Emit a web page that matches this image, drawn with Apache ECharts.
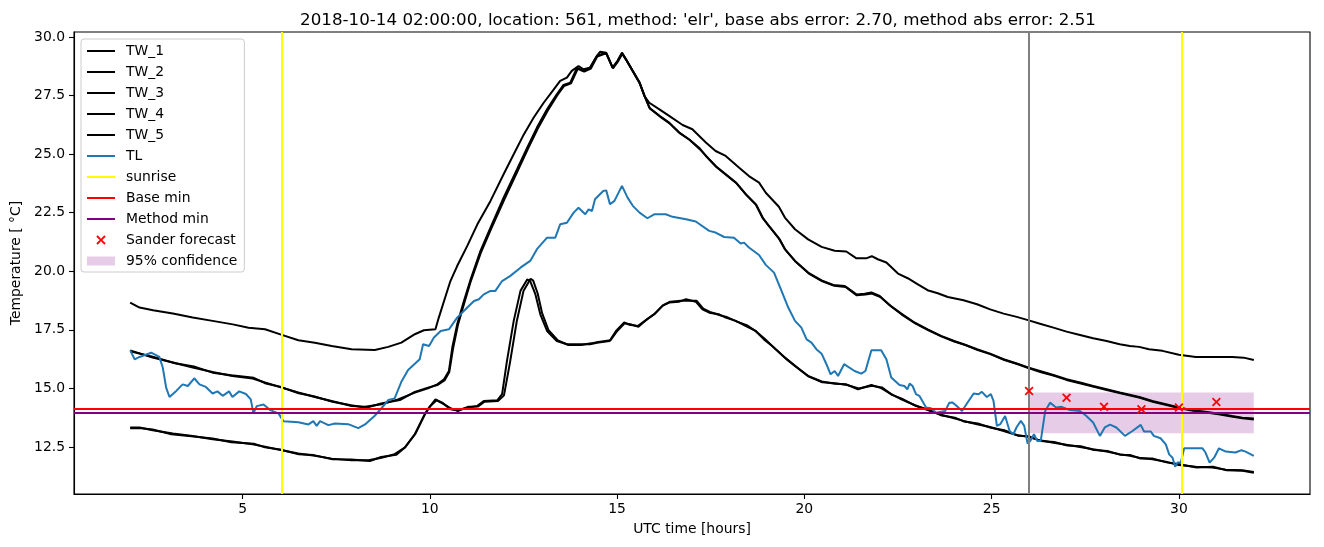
<!DOCTYPE html>
<html>
<head>
<meta charset="utf-8">
<script src="https://cdn.jsdelivr.net/npm/echarts@6/dist/echarts.min.js"></script>
<style>html,body{margin:0;padding:0;background:#fff;}#chart{width:1324px;height:547px;}</style>
</head>
<body>
<div id="chart"></div>
<script>
// ---------- data (time in UTC hours, temperature in °C) ----------
const TW_1 = [[2.0,18.66],[2.25,18.45],[2.61,18.33],[3.14,18.19],[3.67,18.02],[4.20,17.88],[4.74,17.73],[5.16,17.59],[5.60,17.52],[6.05,17.28],[6.49,17.05],[6.93,16.95],[7.38,16.81],[7.91,16.67],[8.53,16.64],[8.89,16.77],[9.24,16.95],[9.60,17.31],[9.84,17.48],[10.15,17.52],[10.24,18.02],[10.38,18.73],[10.55,19.58],[10.73,20.22],[11.00,21.08],[11.27,22.00],[11.62,23.00],[11.97,24.14],[12.24,24.99],[12.51,25.84],[12.77,26.55],[13.04,27.19],[13.31,27.76],[13.48,28.12],[13.66,28.26],[13.79,28.55],[13.97,28.76],[14.10,28.62],[14.28,28.69],[14.46,29.19],[14.55,29.37],[14.71,29.33],[14.88,28.69],[15.01,28.97],[15.13,29.33],[15.24,29.04],[15.42,28.55],[15.60,28.05],[15.73,27.48],[15.86,27.19],[16.13,26.91],[16.39,26.63],[16.75,26.24],[17.01,26.06],[17.37,25.49],[17.63,25.13],[17.90,24.92],[18.26,24.42],[18.52,24.06],[18.79,23.78],[18.97,23.35],[19.32,22.75],[19.48,22.29],[19.75,21.79],[20.10,21.36],[20.46,21.04],[20.81,20.87],[21.12,20.84],[21.39,20.55],[21.65,20.55],[21.80,20.64],[21.96,20.51],[22.19,20.37],[22.50,19.90],[22.76,19.70],[23.03,19.44],[23.29,19.19],[23.56,19.06],[23.83,18.90],[24.25,18.76],[24.61,18.59],[24.96,18.37],[25.32,18.19],[25.67,18.05],[25.97,17.91],[26.29,17.76],[26.65,17.59],[27.00,17.42],[27.36,17.28],[27.71,17.14],[28.07,17.02],[28.42,16.88],[28.69,16.81],[28.94,16.77],[29.20,16.67],[29.56,16.60],[30.00,16.43],[30.45,16.34],[30.89,16.34],[31.42,16.34],[31.73,16.31],[32.0,16.21]];
const TW_2 = [[2.0,16.62],[2.60,16.31],[3.14,16.10],[3.67,15.89],[4.20,15.70],[4.73,15.53],[5.27,15.42],[5.60,15.25],[6.05,15.03],[6.49,14.82],[6.93,14.63],[7.38,14.46],[7.91,14.25],[8.27,14.21],[8.71,14.32],[9.15,14.53],[9.60,14.82],[9.95,15.00],[10.20,15.17],[10.38,15.39],[10.51,15.74],[10.60,16.74],[10.73,17.73],[10.91,18.73],[11.09,19.65],[11.35,20.86],[11.62,21.86],[11.97,23.14],[12.33,24.35],[12.60,25.27],[12.86,26.13],[13.13,26.91],[13.39,27.55],[13.57,27.95],[13.75,28.05],[13.93,28.69],[14.10,28.55],[14.28,28.69],[14.46,29.19],[14.63,29.29],[14.71,29.30],[14.88,28.69],[15.01,28.97],[15.13,29.30],[15.24,29.04],[15.42,28.55],[15.60,28.05],[15.73,27.48],[15.86,26.98],[16.13,26.63],[16.39,26.34],[16.66,25.92],[16.92,25.63],[17.19,25.27],[17.37,24.92],[17.63,24.49],[17.90,24.14],[18.17,23.78],[18.44,23.28],[18.70,22.86],[18.88,22.29],[19.05,21.93],[19.32,21.40],[19.48,20.94],[19.75,20.44],[20.10,19.94],[20.46,19.61],[20.77,19.41],[21.08,19.37],[21.39,19.01],[21.61,19.04],[21.79,19.09],[22.01,18.94],[22.27,18.56],[22.59,18.19],[22.94,17.81],[23.29,17.52],[23.65,17.24],[24.00,17.02],[24.25,16.88],[24.61,16.67],[24.96,16.48],[25.32,16.24],[25.67,16.06],[25.97,15.89],[26.29,15.74],[26.65,15.57],[27.00,15.39],[27.36,15.25],[27.71,15.10],[28.07,14.96],[28.42,14.82],[28.94,14.63],[29.29,14.46],[29.65,14.32],[30.00,14.18],[30.36,14.07],[30.71,14.00],[31.07,13.92],[31.42,13.82],[31.69,13.75],[32.0,13.71]];
const TW_3 = [[2.0,16.58],[2.6,16.35],[3.2,16.07],[3.7,15.93],[4.2,15.67],[4.7,15.56],[5.3,15.45],[5.6,15.22],[6.0,15.07],[6.5,14.79],[6.9,14.66],[7.4,14.43],[7.9,14.28],[8.3,14.17],[8.7,14.35],[9.2,14.50],[9.6,14.85],[9.95,15.03],[10.2,15.14],[10.4,15.35],[10.52,15.70],[10.62,16.70],[10.75,17.70],[10.93,18.70],[11.1,19.60],[11.37,20.82],[11.64,21.82],[12.0,23.10],[12.35,24.30],[12.62,25.22],[12.88,26.08],[13.15,26.86],[13.4,27.50],[13.58,27.90],[13.77,28.02],[13.95,28.64],[14.12,28.52],[14.3,28.65],[14.47,29.16],[14.65,29.27],[14.72,29.27],[14.89,28.66],[15.02,28.94],[15.14,29.28],[15.25,29.0],[15.43,28.5],[15.61,28.0],[15.75,27.42],[15.88,26.94],[16.15,26.60],[16.41,26.30],[16.68,25.88],[16.94,25.60],[17.2,25.22],[17.4,24.88],[17.65,24.45],[17.92,24.10],[18.2,23.74],[18.46,23.24],[18.72,22.82],[18.9,22.25],[19.07,21.90],[19.34,21.36],[19.5,20.90],[19.77,20.40],[20.12,19.90],[20.48,19.57],[20.8,19.38],[21.1,19.33],[21.4,18.97],[21.63,19.0],[21.8,19.05],[22.03,18.90],[22.3,18.52],[22.6,18.15],[22.96,17.77],[23.3,17.49],[23.67,17.21],[24.0,17.0],[24.3,16.85],[24.63,16.63],[24.98,16.45],[25.34,16.21],[25.7,16.03],[26.0,15.86],[26.3,15.70],[26.67,15.54],[27.0,15.36],[27.38,15.21],[27.73,15.07],[28.1,14.92],[28.44,14.79],[28.96,14.60],[29.3,14.43],[29.67,14.29],[30.02,14.15],[30.38,14.04],[30.73,13.97],[31.1,13.88],[31.44,13.79],[31.7,13.72],[32.0,13.67]];
const TW_4 = [[2.0,13.33],[2.25,13.33],[2.60,13.21],[3.14,13.07],[3.67,12.97],[4.20,12.83],[4.73,12.73],[5.27,12.61],[5.60,12.51],[6.05,12.36],[6.49,12.22],[6.93,12.12],[7.38,12.00],[7.91,11.93],[8.36,11.93],[8.71,12.04],[9.06,12.19],[9.33,12.47],[9.60,13.04],[9.86,13.89],[9.98,14.18],[10.15,14.53],[10.33,14.39],[10.55,14.11],[10.73,14.06],[11.00,14.18],[11.27,14.25],[11.44,14.46],[11.80,14.49],[11.93,14.75],[12.06,16.17],[12.24,17.88],[12.42,19.16],[12.60,19.65],[12.68,19.58],[12.82,19.01],[12.95,18.16],[13.13,17.45],[13.39,17.02],[13.66,16.88],[14.02,16.88],[14.28,16.88],[14.46,16.95],[14.80,17.02],[14.97,17.45],[15.19,17.81],[15.33,17.71],[15.55,17.66],[15.77,17.91],[15.99,18.16],[16.21,18.52],[16.39,18.66],[16.66,18.70],[16.84,18.80],[17.10,18.70],[17.28,18.37],[17.46,18.23],[17.72,18.16],[17.90,18.02],[18.17,17.88],[18.44,17.66],[18.70,17.45],[18.92,17.09],[19.14,16.81],[19.48,16.31],[19.75,15.96],[20.10,15.53],[20.46,15.29],[20.81,15.20],[21.12,15.17],[21.43,14.96],[21.79,15.14],[22.05,15.01],[22.32,14.75],[22.59,14.53],[22.94,14.29],[23.29,14.07],[23.65,13.87],[24.00,13.72],[24.25,13.61],[24.61,13.47],[24.96,13.35],[25.32,13.18],[25.67,13.01],[25.97,12.93],[26.29,12.78],[26.65,12.68],[27.00,12.59],[27.36,12.50],[27.71,12.40],[28.07,12.30],[28.42,12.19],[28.69,12.12],[28.94,12.04],[29.29,11.97],[29.65,11.87],[30.00,11.73],[30.45,11.65],[30.89,11.62],[31.25,11.53],[31.69,11.50],[32.0,11.43]];
const TW_5 = [[2.0,13.30],[2.3,13.30],[2.6,13.24],[3.1,13.04],[3.7,12.94],[4.2,12.86],[4.7,12.70],[5.3,12.64],[5.6,12.48],[6.0,12.39],[6.5,12.19],[6.9,12.15],[7.4,11.97],[7.9,11.96],[8.4,11.90],[8.7,12.07],[9.1,12.16],[9.35,12.50],[9.62,13.08],[9.88,13.92],[10.0,14.22],[10.18,14.49],[10.35,14.35],[10.57,14.14],[10.75,14.03],[11.02,14.21],[11.28,14.22],[11.46,14.43],[11.82,14.46],[11.98,14.70],[12.14,16.10],[12.32,17.85],[12.5,19.15],[12.69,19.68],[12.76,19.60],[12.88,19.05],[13.0,18.20],[13.17,17.48],[13.42,17.05],[13.7,16.85],[14.05,16.85],[14.3,16.92],[14.5,16.98],[14.82,17.05],[14.99,17.42],[15.2,17.78],[15.35,17.74],[15.57,17.63],[15.8,17.95],[16.02,18.20],[16.23,18.55],[16.42,18.70],[16.7,18.74],[16.86,18.74],[17.12,18.74],[17.3,18.40],[17.48,18.26],[17.75,18.12],[17.92,18.05],[18.2,17.85],[18.46,17.70],[18.72,17.42],[18.94,17.12],[19.16,16.78],[19.5,16.28],[19.77,15.93],[20.12,15.50],[20.48,15.26],[20.83,15.22],[21.14,15.14],[21.45,14.99],[21.8,15.11],[22.07,15.04],[22.34,14.72],[22.6,14.56],[22.96,14.26],[23.3,14.10],[23.67,13.84],[24.02,13.75],[24.27,13.58],[24.63,13.50],[24.98,13.32],[25.34,13.21],[25.7,12.98],[25.99,12.96],[26.31,12.75],[26.67,12.71],[27.02,12.56],[27.38,12.53],[27.73,12.37],[28.09,12.33],[28.44,12.16],[28.71,12.15],[28.96,12.01],[29.31,12.0],[29.67,11.84],[30.02,11.76],[30.47,11.62],[30.91,11.65],[31.27,11.50],[31.7,11.48],[32.0,11.40]];
const TL = [[2.0,16.62],[2.12,16.24],[2.25,16.34],[2.56,16.52],[2.78,16.34],[2.87,15.89],[2.96,15.03],[3.05,14.63],[3.23,14.89],[3.40,15.17],[3.54,15.10],[3.71,15.43],[3.85,15.17],[4.02,15.06],[4.20,14.78],[4.33,14.87],[4.47,14.68],[4.64,14.87],[4.73,14.63],[4.91,14.87],[5.09,14.76],[5.22,14.53],[5.29,13.93],[5.38,14.24],[5.56,14.31],[5.74,14.07],[5.96,13.93],[6.09,13.60],[6.49,13.55],[6.76,13.46],[6.89,13.60],[6.98,13.40],[7.07,13.60],[7.29,13.43],[7.47,13.50],[7.82,13.47],[8.09,13.30],[8.27,13.46],[8.53,13.83],[8.71,14.15],[8.89,14.50],[9.06,14.57],[9.24,15.28],[9.42,15.78],[9.73,16.24],[9.82,16.88],[9.98,16.81],[10.11,17.17],[10.29,17.45],[10.51,17.52],[10.73,18.02],[11.00,18.45],[11.18,18.73],[11.31,18.80],[11.44,19.01],[11.62,19.16],[11.75,19.16],[11.93,19.58],[12.15,19.80],[12.42,20.15],[12.68,20.44],[12.86,20.94],[13.13,21.43],[13.35,21.43],[13.39,21.36],[13.48,22.00],[13.66,22.07],[13.84,22.50],[13.97,22.71],[14.15,22.43],[14.24,22.64],[14.33,22.57],[14.41,23.07],[14.63,23.42],[14.66,23.35],[14.71,23.45],[14.81,22.86],[14.93,23.00],[15.13,23.64],[15.28,23.14],[15.42,22.79],[15.60,22.50],[15.81,22.26],[15.99,22.43],[16.30,22.43],[16.48,22.32],[16.84,22.22],[17.10,22.12],[17.46,21.72],[17.63,21.65],[17.86,21.46],[18.12,21.43],[18.30,21.18],[18.39,21.22],[18.52,21.01],[18.79,20.69],[18.97,20.27],[19.19,19.94],[19.39,19.16],[19.57,18.45],[19.75,17.88],[19.92,17.59],[20.06,17.09],[20.19,16.95],[20.32,16.67],[20.46,16.48],[20.59,16.03],[20.70,15.60],[20.81,15.74],[20.90,15.53],[21.06,16.03],[21.34,15.74],[21.52,15.63],[21.63,15.74],[21.79,16.63],[22.05,16.63],[22.19,16.24],[22.32,15.46],[22.54,15.14],[22.67,15.10],[22.75,14.96],[22.81,15.20],[22.89,15.10],[22.98,14.75],[23.07,14.68],[23.25,14.18],[23.38,14.15],[23.52,13.96],[23.65,14.00],[23.76,14.03],[23.87,14.39],[23.95,14.40],[24.03,14.30],[24.21,14.03],[24.34,14.35],[24.52,14.78],[24.65,14.75],[24.74,14.85],[24.87,14.63],[24.98,14.75],[25.05,14.46],[25.14,13.40],[25.23,13.47],[25.36,13.82],[25.48,13.18],[25.58,13.04],[25.67,13.35],[25.78,13.61],[25.87,13.40],[25.96,12.64],[26.03,12.75],[26.13,13.04],[26.22,12.75],[26.31,12.75],[26.43,14.03],[26.56,14.39],[26.72,14.18],[26.87,14.21],[27.09,14.07],[27.36,14.03],[27.53,13.82],[27.71,13.54],[27.89,12.97],[28.02,13.33],[28.16,13.45],[28.33,13.33],[28.56,12.97],[28.76,13.18],[28.98,13.44],[29.07,13.16],[29.25,13.16],[29.33,12.97],[29.51,12.87],[29.65,12.61],[29.74,12.18],[29.83,12.04],[29.90,11.65],[29.96,11.83],[30.05,11.83],[30.14,12.44],[30.36,12.44],[30.63,12.44],[30.71,12.26],[30.82,11.83],[30.94,12.04],[31.07,12.44],[31.25,12.30],[31.51,12.26],[31.67,12.36],[31.78,12.30],[32.0,12.12]];
const forecastHours = [26, 27, 28, 29, 30, 31];
const forecastTemps = [14.89, 14.60, 14.21, 14.11, 14.18, 14.42];
const sunriseHours = [6.06, 30.07];
const forecastStartHour = [26.0];
const baseMin = [14.15];
const methodMin = [13.94];
const confHours = [26.0, 32.0];
const confBounds = [13.08, 14.82];
const xTicks = [5, 10, 15, 20, 25, 30];
const yTicks = [12.5, 15.0, 17.5, 20.0, 22.5, 25.0, 27.5, 30.0];
const xRange = [0.5, 33.5];
const yRange = [10.49, 30.21];
const titleText = "2018-10-14 02:00:00, location: 561, method: 'elr', base abs error: 2.70, method abs error: 2.51";

// ---------- chart ----------
const FONT = 'DejaVu Sans';
const LW = 2;
const chart = echarts.init(document.getElementById('chart'), null, {renderer: 'canvas'});
const twLine = (name, data) => ({
  name, type: 'line', data, symbol: 'none', color: '#000000',
  lineStyle: {color: '#000000', width: LW}, z: 3, animation: false
});
const xPath = 'path://M0,1.4L1.4,0L5,3.6L8.6,0L10,1.4L6.4,5L10,8.6L8.6,10L5,6.4L1.4,10L0,8.6L3.6,5Z';
const xLegendPath = 'path://M-2.5,-2.5h0.01v0.01h-0.01Z M12.49,12.49h0.01v0.01h-0.01Z M0,1.4L1.4,0L5,3.6L8.6,0L10,1.4L6.4,5L10,8.6L8.6,10L5,6.4L1.4,10L0,8.6L3.6,5Z';
const rectLegendPath = 'path://M0,0H28V0.01H0Z M0,2.5H28V11.5H0Z M0,13.99H28V14H0Z';
const markLineBase = {silent: true, symbol: ['none', 'none'], label: {show: false}, animation: false};
const hideSym = {itemStyle: {opacity: 0}};

const option = {
  animation: false,
  backgroundColor: '#ffffff',
  title: {
    text: titleText, left: 693, top: 7, textAlign: 'center',
    textStyle: {fontFamily: FONT, fontSize: 16.7, fontWeight: 'normal', color: '#000'}
  },
  grid: {left: 74, right: 14, top: 32, bottom: 53, show: true, borderColor: '#000', borderWidth: 1.1, backgroundColor: 'transparent'},
  legend: {
    orient: 'vertical', left: 81, top: 39,
    itemWidth: 28, itemHeight: 14, itemGap: 7,
    padding: [5, 7, 4, 5],
    backgroundColor: 'rgba(255,255,255,0.85)', borderColor: '#cccccc', borderWidth: 1, borderRadius: 3,
    textStyle: {fontFamily: FONT, fontSize: 13.9, color: '#000', padding: [0, 0, 0, 6]},
    lineStyle: {width: LW},
    data: [
      Object.assign({name: 'TW_1'}, hideSym), Object.assign({name: 'TW_2'}, hideSym),
      Object.assign({name: 'TW_3'}, hideSym), Object.assign({name: 'TW_4'}, hideSym),
      Object.assign({name: 'TW_5'}, hideSym), Object.assign({name: 'TL'}, hideSym),
      Object.assign({name: 'sunrise'}, hideSym), Object.assign({name: 'Base min'}, hideSym),
      Object.assign({name: 'Method min'}, hideSym),
      {name: 'Sander forecast', icon: xLegendPath, itemStyle: {opacity: 1, color: '#ff0000'}},
      {name: '95% confidence', icon: rectLegendPath, itemStyle: {opacity: 1, color: 'rgba(128,0,128,0.2)'}}
    ],
    selectedMode: false
  },
  xAxis: {
    type: 'value', min: xRange[0], max: xRange[1],
    name: 'UTC time [hours]', nameLocation: 'middle', nameGap: 28,
    nameTextStyle: {fontFamily: FONT, fontSize: 13.9, color: '#000'},
    axisLine: {show: true, onZero: false, lineStyle: {color: '#000', width: 1.1}},
    axisTick: {show: true, length: 5, inside: false, lineStyle: {color: '#000', width: 1.1}, customValues: xTicks},
    axisLabel: {fontFamily: FONT, fontSize: 13.9, color: '#000', margin: 8, customValues: xTicks, formatter: v => String(v)},
    splitLine: {show: false}
  },
  yAxis: {
    type: 'value', min: yRange[0], max: yRange[1],
    name: 'Temperature [ °C]', nameLocation: 'middle', nameGap: 47, nameRotate: 90,
    nameTextStyle: {fontFamily: FONT, fontSize: 13.9, color: '#000'},
    axisLine: {show: true, onZero: false, lineStyle: {color: '#000', width: 1.1}},
    axisTick: {show: true, length: 5, inside: false, lineStyle: {color: '#000', width: 1.1}, customValues: yTicks},
    axisLabel: {fontFamily: FONT, fontSize: 13.9, color: '#000', margin: 9, customValues: yTicks, formatter: v => v.toFixed(1)},
    splitLine: {show: false}
  },
  series: [
    {
      name: '95% confidence', type: 'line', data: [], color: 'rgba(128,0,128,0.2)',
      itemStyle: {color: 'rgba(128,0,128,0.2)'}, z: 1,
      markArea: {silent: true, itemStyle: {color: 'rgba(128,0,128,0.2)'}, label: {show: false},
        data: [[{xAxis: confHours[0], yAxis: confBounds[0]}, {xAxis: confHours[1], yAxis: confBounds[1]}]]}
    },
    {
      name: 'forecast start', type: 'line', data: [], z: 2,
      markLine: Object.assign({}, markLineBase, {lineStyle: {color: '#808080', width: LW, type: 'solid'},
        data: forecastStartHour.map(h => ({xAxis: h}))})
    },
    twLine('TW_1', TW_1), twLine('TW_2', TW_2), twLine('TW_3', TW_3), twLine('TW_4', TW_4), twLine('TW_5', TW_5),
    {name: 'TL', type: 'line', data: TL, symbol: 'none', color: '#1f77b4', lineStyle: {color: '#1f77b4', width: LW}, z: 4},
    {
      name: 'sunrise', type: 'line', data: [], symbol: 'none', color: '#ffff00', lineStyle: {color: '#ffff00', width: LW}, z: 5,
      markLine: Object.assign({}, markLineBase, {lineStyle: {color: '#ffff00', width: LW, type: 'solid'},
        data: sunriseHours.map(h => ({xAxis: h}))})
    },
    {
      name: 'Base min', type: 'line', data: [], symbol: 'none', color: '#ff0000', lineStyle: {color: '#ff0000', width: LW}, z: 5,
      markLine: Object.assign({}, markLineBase, {lineStyle: {color: '#ff0000', width: LW, type: 'solid'},
        data: baseMin.map(v => ({yAxis: v}))})
    },
    {
      name: 'Method min', type: 'line', data: [], symbol: 'none', color: '#800080', lineStyle: {color: '#800080', width: LW}, z: 5,
      markLine: Object.assign({}, markLineBase, {lineStyle: {color: '#800080', width: LW, type: 'solid'},
        data: methodMin.map(v => ({yAxis: v}))})
    },
    {
      name: 'Sander forecast', type: 'scatter', symbol: xPath, symbolSize: 9, symbolKeepAspect: true,
      color: '#ff0000', itemStyle: {color: '#ff0000', opacity: 1}, z: 6,
      data: forecastHours.map((h, i) => [h, forecastTemps[i]])
    }
  ]
};
chart.setOption(option);
</script>
</body>
</html>
